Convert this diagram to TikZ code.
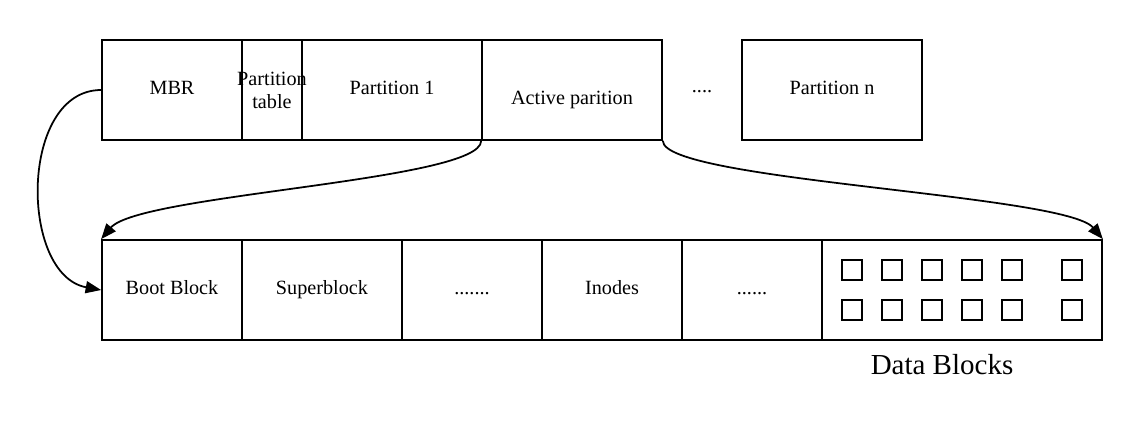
\documentclass[tikz,border=0pt]{standalone}
\usepackage{fontspec}
\setmainfont{Liberation Serif}
\usetikzlibrary{arrows.meta}

\begin{document}
\begin{tikzpicture}[x=0.02cm, y=-0.02cm,
  txt/.style={font=\fontsize{11.5}{13}\selectfont, text height=7.5pt, text depth=2pt},
  cell/.style={draw, line width=1pt, minimum height=2cm, inner sep=0pt, label={[txt]center:#1}},
  cell/.default={},
  blk/.style={draw, line width=1pt, minimum size=0.4cm, inner sep=0pt},
  arr/.style={-{Triangle[length=3.1mm,width=2.4mm]}, line width=1pt}
]
\useasboundingbox (0,0) rectangle (1142,440);
% disk layout
\node[cell=MBR, minimum width=2.8cm] (mbr) at (172,90) {};
\node[cell, minimum width=1.2cm,
  label={[font=\fontsize{11.5}{13}\selectfont, align=center]center:Partition\\table}] (ptab) at (272,90) {};
\node[cell=Partition 1, minimum width=3.6cm] (part1) at (392,90) {};
\node[cell, minimum width=3.6cm, label={[txt, yshift=-0.2cm]center:Active parition}] (act) at (572,90) {};
\node[txt] (tdots) at (702,88) {....};
\node[cell=Partition n, minimum width=3.6cm] (partn) at (832,90) {};
% file system layout
\node[cell=Boot Block, minimum width=2.8cm] (boot) at (172,290) {};
\node[cell=Superblock, minimum width=3.2cm] (super) at (322,290) {};
\node[cell=......., minimum width=2.8cm] (dots1) at (472,290) {};
\node[cell=Inodes, minimum width=2.8cm] (inodes) at (612,290) {};
\node[cell=......, minimum width=2.8cm] (dots2) at (752,290) {};
\node[cell, minimum width=5.6cm] (data) at (962,290) {};
\foreach \x in {852,892,932,972,1012,1072}
  \foreach \y in {270,310}
    \node[blk] (b-\x-\y) at (\x,\y) {};
\node[font=\fontsize{16.5}{19}\selectfont] (dlabel) at (942,365) {Data Blocks};
% connectors
\draw[arr] (mbr.west) .. controls +(-82,0) and +(-82,-15) .. (boot.west);
\draw[arr] (act.south west) .. controls +(0,40) and +(38,-45) .. (boot.north west);
\draw[arr] (act.south east) .. controls +(0,40) and +(-38,-45) .. (data.north east);
\end{tikzpicture}
\end{document}
